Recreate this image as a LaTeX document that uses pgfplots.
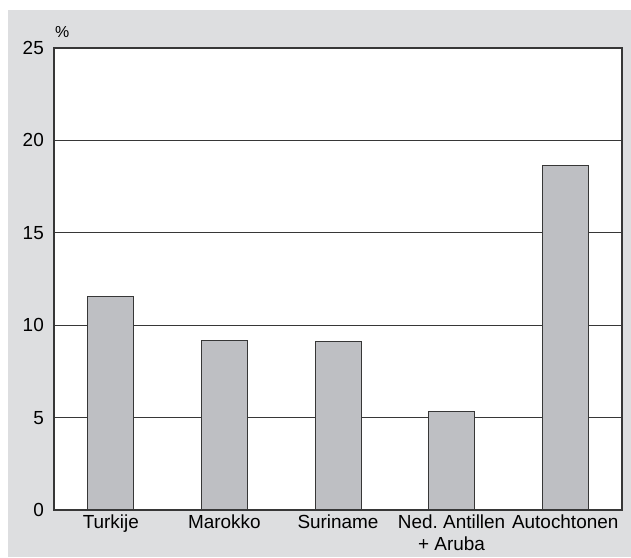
\documentclass[border=0pt]{standalone}
\usepackage{pgfplots}
\pgfplotsset{compat=1.18}
\usepackage{fontspec}
\setmainfont{Liberation Sans}
\definecolor{bggray}{RGB}{221,222,224}
\definecolor{bargray}{RGB}{190,191,195}
\definecolor{linegray}{RGB}{55,55,55}
\begin{document}
\begin{tikzpicture}[x=1bp,y=1bp]
\fill[bggray] (8,1) rectangle (631,548);
\useasboundingbox (0,0) rectangle (631,558);
\begin{axis}[
  at={(54bp,48bp)}, anchor=south west,
  scale only axis, width=568bp, height=462bp,
  xmin=-0.5, xmax=4.5, ymin=0, ymax=25,
  ytick={0,5,10,15,20,25},
  xtick={0,1,2,3,4},
  xticklabels={Turkije,Marokko,Suriname,{Ned.\ Antillen\\+ Aruba},Autochtonen},
  xticklabel style={align=center, font=\fontsize{19}{22}\selectfont, inner sep=2bp, yshift=-3bp},
  yticklabel style={font=\fontsize{19}{22}\selectfont, inner sep=0bp, xshift=-10bp},
  /pgf/number format/assume math mode=true,
  major tick length=0pt,
  ymajorgrids,
  grid style={linegray, line width=1bp},
  axis line style={linegray, line width=1.2bp},
  axis background/.style={fill=white},
  ybar, bar width=0.405,
  clip=false,
]
\addplot[fill=bargray, draw=linegray, line width=1bp] coordinates {
  (0,11.56) (1,9.19) (2,9.10) (3,5.31) (4,18.63)
};
\node[anchor=base west, font=\fontsize{16}{18}\selectfont, inner sep=0pt] at (rel axis cs:0,1) [xshift=1bp, yshift=10bp] {\%};
\end{axis}
\end{tikzpicture}
\end{document}
